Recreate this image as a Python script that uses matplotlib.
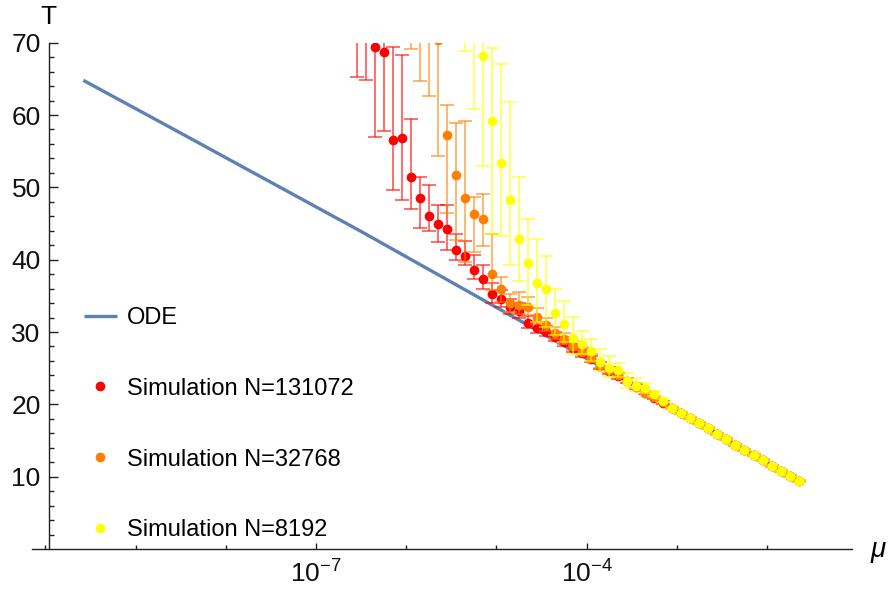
import matplotlib
matplotlib.use("Agg")
import matplotlib.pyplot as plt
import numpy as np

plt.rcParams.update({
    "font.family": "Liberation Sans",
    "mathtext.fontset": "custom",
    "mathtext.rm": "Liberation Sans",
    "mathtext.it": "Liberation Sans:italic",
    "axes.linewidth": 1.0,
})

# log10(mu) sample points (shared grid, every series ends at -1.65)
LOG_MU = [-6.55, -6.45, -6.35, -6.25, -6.15, -6.05, -5.95, -5.85, -5.75, -5.65,
          -5.55, -5.45, -5.35, -5.25, -5.15, -5.05, -4.95, -4.85, -4.75, -4.65,
          -4.55, -4.45, -4.35, -4.25, -4.15, -4.05, -3.95, -3.85, -3.75, -3.65,
          -3.55, -3.45, -3.35, -3.25, -3.15, -3.05, -2.95, -2.85, -2.75, -2.65,
          -2.55, -2.45, -2.35, -2.25, -2.15, -2.05, -1.95, -1.85, -1.75, -1.65]

# where all three simulations sit on the ODE curve (-3.05 ... -1.65)
TAIL_T = [19.5, 18.8, 18.1, 17.4, 16.7, 15.9, 15.2, 14.4, 13.7, 13.0,
          12.3, 11.5, 10.8, 10.1, 9.4]
TAIL_ERR = [0.15] * 15

RED_T = [74, 73, 69.4, 68.7, 56.6, 56.8, 51.5, 48.5, 46.0, 44.9,
         44.3, 41.3, 40.5, 38.6, 37.3, 35.2, 34.5, 33.4, 32.9, 31.2,
         30.5, 30.0, 29.3, 28.6, 27.8, 27.1, 26.2, 25.3, 24.6, 23.9,
         23.2, 22.4, 21.6, 20.9, 20.2] + TAIL_T
RED_UP = [10, 10, 10, 9, 12.8, 11.5, 7.9, 2.9, 4.3, 2.6,
          3.3, 2.2, 2.1, 2.1, 1.9, 1.6, 1.3, 1.1, 1.1, 1.0,
          0.9, 0.8, 0.7, 0.7, 0.6, 0.6, 0.5, 0.5, 0.5, 0.4,
          0.4, 0.4, 0.3, 0.2, 0.2] + TAIL_ERR
RED_DN = [8.8, 8.1, 12.5, 10.9, 7.0, 8.6, 4.5, 4.1, 2.1, 2.5,
          3.0, 1.4, 1.3, 1.3, 1.3, 1.2, 1.0, 0.9, 0.9, 0.7,
          0.7, 0.6, 0.6, 0.5, 0.5, 0.5, 0.4, 0.4, 0.4, 0.4,
          0.3, 0.3, 0.2, 0.2, 0.2] + TAIL_ERR

ORA_T = [80, 78, 75, 70.4, 57.2, 51.7, 48.5, 46.3, 45.6, 38.0,
         36.0, 34.0, 33.7, 33.5, 32.1, 31.0, 29.8, 29.1, 28.1, 27.3,
         26.4, 25.4, 24.7, 24.0, 23.2, 22.5, 21.6, 21.0, 20.3] + TAIL_T
ORA_UP = [10, 10, 10, 10, 4.2, 7.2, 10.7, 2.4, 3.5, 5.6,
          1.6, 1.3, 1.8, 1.3, 1.2, 1.0, 0.9, 0.8, 0.7, 0.6,
          0.6, 0.5, 0.5, 0.4, 0.4, 0.4, 0.3, 0.2, 0.2] + TAIL_ERR
ORA_DN = [10.9, 13.3, 12.4, 16.1, 10.8, 9.0, 8.8, 5.3, 3.7, 2.2,
          1.8, 1.2, 1.2, 1.2, 1.0, 0.9, 0.8, 0.7, 0.6, 0.5,
          0.5, 0.4, 0.4, 0.4, 0.3, 0.3, 0.2, 0.2, 0.2] + TAIL_ERR

YEL_T = [76, 73, 68.1, 59.2, 53.4, 48.2, 42.9, 39.5, 36.8, 35.9,
         32.6, 31.1, 29.2, 28.4, 27.4, 25.9, 25.0, 24.7, 23.2, 22.6,
         22.2, 21.4, 20.5] + TAIL_T
YEL_UP = [10, 12, 10, 10, 13.7, 13.6, 8.6, 6.1, 6.0, 4.6,
          3.4, 3.2, 2.9, 1.8, 1.7, 1.7, 1.7, 1.0, 1.2, 1.0,
          0.7, 0.4, 0.2] + TAIL_ERR
YEL_DN = [7.2, 12.1, 15.1, 15.6, 10.1, 8.9, 5.9, 5.8, 5.4, 5.2,
          3.0, 2.5, 2.2, 1.5, 1.4, 1.3, 1.2, 0.9, 0.9, 0.8,
          0.6, 0.3, 0.2] + TAIL_ERR

# ODE curve
ODE_LOG_MU = [-9.58, -8.5, -7.5, -6.5, -5.5, -4.5, -3.5, -2.5, -1.62]
ODE_T = [64.8, 57.5, 50.7, 43.9, 36.9, 29.9, 22.8, 15.6, 9.2]

SERIES = [
    ("Simulation N=131072", "#FF0000", RED_T, RED_UP, RED_DN),
    ("Simulation N=32768", "#FF7F00", ORA_T, ORA_UP, ORA_DN),
    ("Simulation N=8192", "#FFFF00", YEL_T, YEL_UP, YEL_DN),
]

W, H = 891, 592
fig = plt.figure(figsize=(W / 100, H / 100), dpi=100)
ax = fig.add_axes([32 / W, 1 - 549 / H, (852 - 32) / W, (549 - 42.7) / H])

ax.set_xscale("log")
ax.set_xlim(10 ** -10.149, 10 ** -1.058)
ax.set_ylim(0, 70)

ode_line, = ax.plot(10 ** np.array(ODE_LOG_MU), ODE_T, color="#5E81B5",
                    lw=2.4, solid_capstyle="butt", solid_joinstyle="round",
                    zorder=2)

handles = [ode_line]
labels = ["ODE"]
for i, (name, col, t, up, dn) in enumerate(SERIES):
    n = len(t)
    x = 10 ** np.array(LOG_MU[-n:])
    ecol = matplotlib.colors.to_rgba(col, 0.72)
    ax.errorbar(x, t, yerr=[dn, up], fmt="none", ecolor=ecol, elinewidth=1.1,
                capsize=5, capthick=1.1, zorder=3 + 2 * i)
    pts, = ax.plot(x, t, ls="none", marker="o", color=col, ms=7.0,
                   markeredgecolor="none", zorder=4 + 2 * i)
    handles.append(pts)
    labels.append(name)

# axes styling (Mathematica-like crossing axes)
ax.spines["top"].set_visible(False)
ax.spines["right"].set_visible(False)
ax.spines["left"].set_position(("data", 10 ** -9.96))
for s in ("left", "bottom"):
    ax.spines[s].set_color("#222222")

ax.set_xticks([1e-7, 1e-4])
ax.set_xticklabels([r"$10^{-7}$", r"$10^{-4}$"])
ax.set_xticks([10.0 ** k for k in (-10, -9, -8, -6, -5, -3, -2)], minor=True)
ax.xaxis.set_minor_formatter(matplotlib.ticker.NullFormatter())
ax.set_yticks([10, 20, 30, 40, 50, 60, 70])
ax.set_yticks([2, 4, 6, 8, 12, 14, 16, 18, 22, 24, 26, 28, 32, 34, 36, 38,
               42, 44, 46, 48, 52, 54, 56, 58, 62, 64, 66, 68], minor=True)
ax.tick_params(which="both", direction="in", color="#222222", labelsize=19,
               labelcolor="#111111")
ax.tick_params(axis="y", which="major", length=6.5, width=1.0, pad=6)
ax.tick_params(axis="y", which="minor", length=3.5, width=1.0)
ax.tick_params(axis="x", which="major", length=4.5, width=1.0, pad=8)
ax.tick_params(axis="x", which="minor", length=3, width=1.0)

fig.text(48 / W, 1 - 17 / H, "T", fontsize=19, ha="center", va="center")
fig.text(879 / W, 1 - 552 / H, r"$\mu$", fontsize=20, ha="center", va="center")

ax.legend(handles, labels, loc="lower left", bbox_to_anchor=(0.063, 0.015),
          frameon=False, fontsize=17, handlelength=1.4, handletextpad=0.45,
          labelspacing=2.07, borderpad=0, borderaxespad=0)

fig.savefig("out.png", dpi=100)
